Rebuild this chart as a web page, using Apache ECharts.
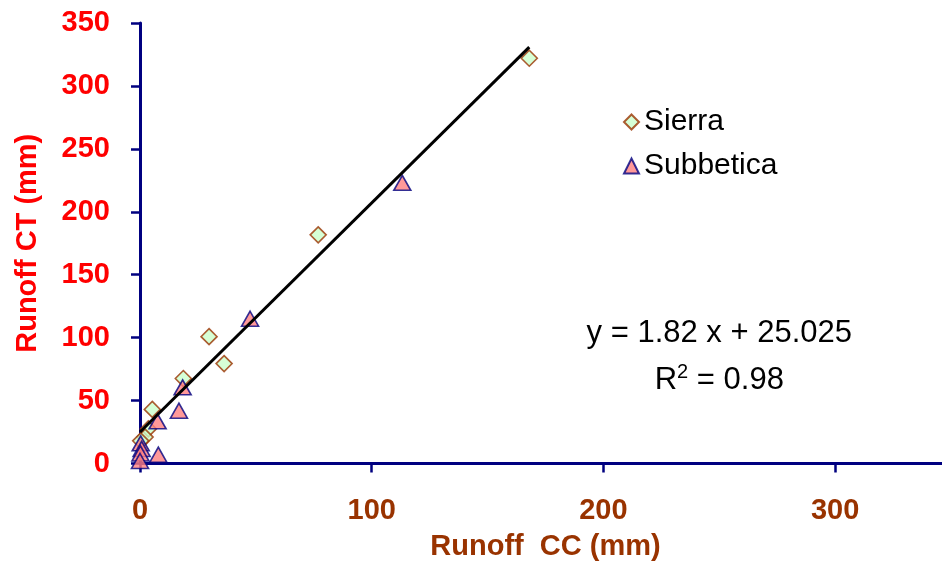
<!DOCTYPE html>
<html>
<head>
<meta charset="utf-8">
<script src="https://cdn.jsdelivr.net/npm/echarts@6/dist/echarts.min.js"></script>
<style>
html,body{margin:0;padding:0;background:#fff;}
#chart{width:942px;height:562px;}
</style>
</head>
<body>
<div id="chart"></div>
<script>
// Data
const sierraX = [168, 76.9, 29.8, 36.3, 18.7, 5.3, 3.6, 2.2, 0.3];
const sierraY = [322, 181.7, 100.8, 79.4, 67.5, 43, 27.5, 21, 18];
const subbeticaX = [113.2, 47.5, 18.4, 16.8, 7.6, 7.9, 0.3, 0.7, 0.2, 0];
const subbeticaY = [223, 115, 60.5, 42, 33.5, 7, 16, 11.6, 8, 2];
const trendX = [0, 168];
const trendY = [25.0, 330.8];
const xTicks = [0, 100, 200, 300];
const yTicks = [0, 50, 100, 150, 200, 250, 300, 350];
const equationText = 'y = 1.82 x + 25.025';
const r2Value = '0.98';

const FONT = '"Liberation Sans", Arial, sans-serif';
const pair = (xs, ys) => xs.map((x, i) => [x, ys[i]]);

const chart = echarts.init(document.getElementById('chart'), null, {renderer: 'canvas'});
chart.setOption({
  backgroundColor: '#ffffff',
  animation: false,
  grid: {left: 140, right: -9, top: 23, bottom: 98.5, containLabel: false, outerBoundsMode: 'none'},
  legend: {
    orient: 'vertical',
    left: 618,
    top: 102,
    itemWidth: 15,
    itemHeight: 15,
    itemGap: 14,
    textStyle: {fontFamily: FONT, fontSize: 30, color: '#000'},
    data: [
      {name: 'Sierra', icon: 'diamond'},
      {name: 'Subbetica', icon: 'triangle'}
    ]
  },
  xAxis: {
    type: 'value',
    min: 0, max: 350, interval: 100,
    name: 'Runoff  CC (mm)',
    nameLocation: 'middle',
    nameGap: 69,
    nameTextStyle: {fontFamily: FONT, fontSize: 29, fontWeight: 'bold', color: '#993300'},
    axisLine: {show: true, onZero: false, lineStyle: {color: '#000080', width: 3}},
    axisTick: {show: true, inside: false, length: 9, lineStyle: {color: '#000080', width: 2.5}},
    axisLabel: {
      margin: 33, fontFamily: FONT, fontSize: 29, fontWeight: 'bold', color: '#993300',
      formatter: v => xTicks.includes(v) ? String(v) : ''
    },
    splitLine: {show: false}
  },
  yAxis: {
    type: 'value',
    min: 0, max: 350, interval: 50,
    name: 'Runoff CT (mm)',
    nameLocation: 'middle',
    nameGap: 98,
    nameTextStyle: {fontFamily: FONT, fontSize: 29, fontWeight: 'bold', color: '#ff0000'},
    axisLine: {show: true, onZero: false, lineStyle: {color: '#000080', width: 3}},
    axisTick: {show: true, inside: false, length: 9, lineStyle: {color: '#000080', width: 2.5}},
    axisLabel: {
      margin: 30, fontFamily: FONT, fontSize: 29, fontWeight: 'bold', color: '#ff0000',
      formatter: v => yTicks.includes(v) ? String(v) : ''
    },
    splitLine: {show: false}
  },
  series: [
    {
      name: 'Sierra',
      type: 'scatter',
      symbol: 'diamond',
      symbolSize: [16, 16],
      itemStyle: {color: '#ccffcc', borderColor: '#993300', borderWidth: 1.6},
      data: pair(sierraX, sierraY),
      z: 2
    },
    {
      name: 'Subbetica',
      type: 'scatter',
      symbol: 'triangle',
      symbolSize: [17, 15],
      itemStyle: {color: '#ff8080', borderColor: '#000080', borderWidth: 1.6},
      data: pair(subbeticaX, subbeticaY),
      z: 3
    },
    {
      name: 'Trend',
      type: 'line',
      symbol: 'none',
      lineStyle: {color: '#000', width: 3},
      data: pair(trendX, trendY),
      z: 4,
      silent: true
    }
  ]
});

// Equation annotation placed at data coordinates of the chart
const eqPos = chart.convertToPixel({gridIndex: 0}, [250, 103]);
const r2Pos = chart.convertToPixel({gridIndex: 0}, [250, 66]);
chart.setOption({
  graphic: [
    {
      type: 'text', x: eqPos[0], y: eqPos[1], z: 100,
      style: {
        text: equationText, fill: '#000', font: '31px ' + FONT,
        align: 'center', verticalAlign: 'middle'
      }
    },
    {
      type: 'text', x: r2Pos[0], y: r2Pos[1], z: 100,
      style: {
        text: 'R{sup|2} = ' + r2Value, fill: '#000', font: '31px ' + FONT,
        align: 'center', verticalAlign: 'middle',
        rich: {sup: {fontSize: 20, fontFamily: FONT, verticalAlign: 'top', padding: [0, 0, 16, 0], fill: '#000'}}
      }
    }
  ]
});
</script>
</body>
</html>
